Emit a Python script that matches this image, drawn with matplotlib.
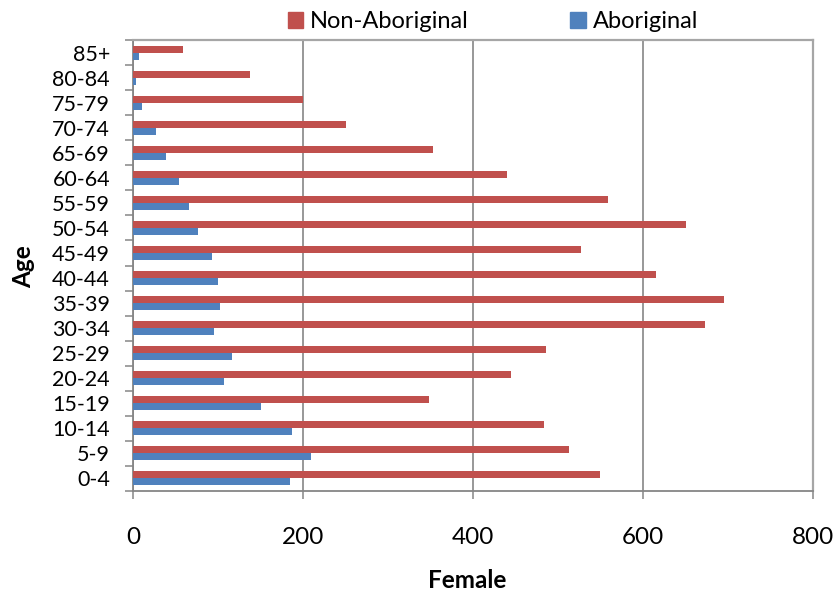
import matplotlib.pyplot as plt
from matplotlib.patches import Rectangle
import numpy as np

age_groups = ['0-4', '5-9', '10-14', '15-19', '20-24', '25-29', '30-34',
              '35-39', '40-44', '45-49', '50-54', '55-59', '60-64', '65-69',
              '70-74', '75-79', '80-84', '85+']
non_aboriginal = [549, 513, 484, 348, 445, 486, 673, 695, 615, 527, 651, 559,
                  440, 353, 250, 200, 138, 59]
aboriginal = [185, 209, 187, 151, 107, 117, 95, 102, 100, 93, 76, 66, 54, 39,
              27, 10, 3, 7]
x_ticks = [0, 200, 400, 600, 800]

red = '#C0504D'
blue = '#4F81BD'
axis_grey = '#868686'
frame_grey = '#A6A6A6'

plt.rcParams['font.family'] = ['Lato', 'DejaVu Sans']

fig = plt.figure(figsize=(8.36, 5.95), dpi=100)
ax = fig.add_axes([133 / 836, 1 - 491 / 595, 680 / 836, 451 / 595])

pos = np.arange(len(age_groups))
h = 0.28
ax.barh(pos + h / 2, non_aboriginal, height=h, color=red, zorder=3)
ax.barh(pos - h / 2, aboriginal, height=h, color=blue, zorder=3)

ax.set_xlim(0, 800)
ax.set_ylim(-0.5, len(age_groups) - 0.5)

# x axis: ticks outside, vertical gridlines
ax.set_xticks(x_ticks)
ax.set_xticklabels([str(v) for v in x_ticks], fontsize=17.5)
ax.tick_params(axis='x', direction='out', length=5.8, width=1.1,
               color=axis_grey, pad=20)
ax.xaxis.grid(True, color=axis_grey, linewidth=1.2, zorder=0)

# y axis: tick marks between categories, labels centred on them
ax.set_yticks(np.arange(-0.5, len(age_groups), 1.0))
ax.set_yticklabels([])
ax.set_yticks(pos, minor=True)
ax.set_yticklabels(age_groups, minor=True, fontsize=15.5)
ax.tick_params(axis='y', which='major', direction='out', length=5.8,
               width=1.1, color=axis_grey)
ax.tick_params(axis='y', which='minor', length=0, pad=16.5)

for side in ['left', 'bottom']:
    ax.spines[side].set_color(axis_grey)
    ax.spines[side].set_linewidth(1.3)
for side in ['top', 'right']:
    ax.spines[side].set_color(frame_grey)
    ax.spines[side].set_linewidth(1.6)

fig.text(467 / 836, 1 - 581 / 595, 'Female', ha='center', va='center',
         fontsize=17.5, fontweight='bold')
fig.text(24 / 836, 1 - 267 / 595, 'Age', ha='center', va='center',
         rotation=90, fontsize=17.5, fontweight='bold')

handles = [Rectangle((0, 0), 1, 1, color=red),
           Rectangle((0, 0), 1, 1, color=blue)]
fig.legend(handles, ['Non-Aboriginal', 'Aboriginal'], ncol=2,
           loc='center', bbox_to_anchor=(493 / 836, 1 - 21.5 / 595),
           frameon=False, fontsize=17, handlelength=0.64, handleheight=0.64,
           handletextpad=0.3, columnspacing=4.3, borderpad=0)

fig.savefig('out.png', dpi=100)
